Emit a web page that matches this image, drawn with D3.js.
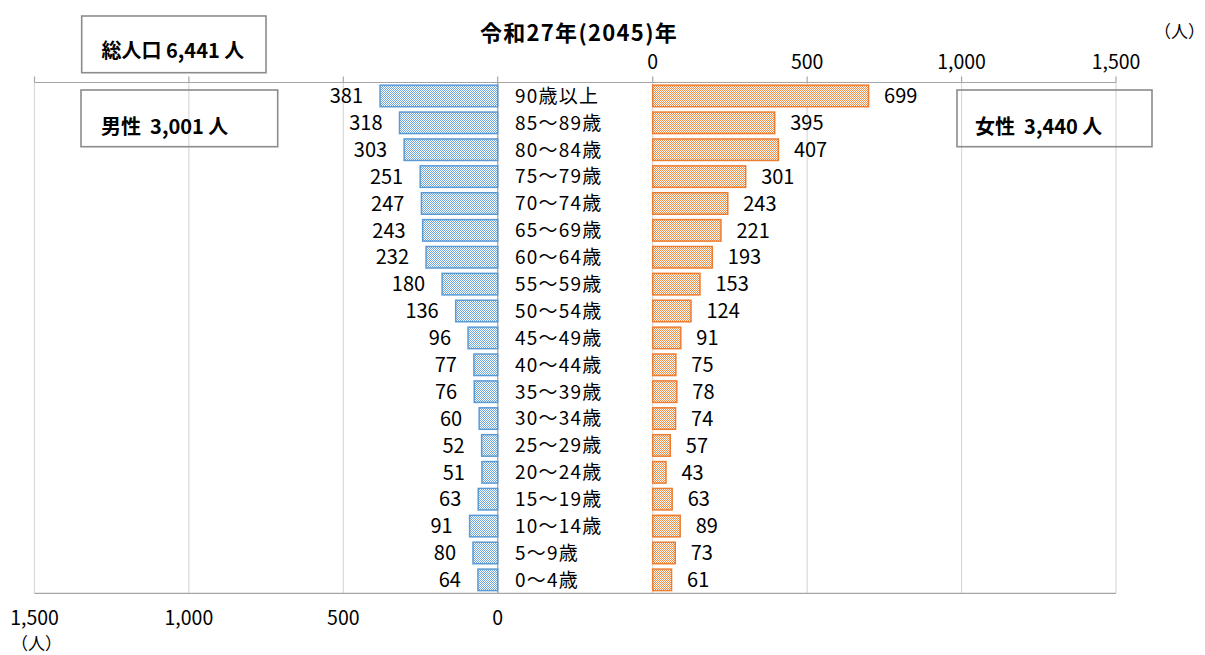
<!DOCTYPE html>
<html lang="ja">
<head>
<meta charset="utf-8">
<script src="https://cdn.jsdelivr.net/npm/d3@7"></script>
<style>
  html, body { margin: 0; padding: 0; background: #fff; }
  svg { display: block; font-family: "Noto Sans CJK JP", "Noto Sans", sans-serif; }
</style>
</head>
<body>
<svg id="chart" width="1205" height="655"></svg>
<script>
// 年齢階級（上から高齢順）
const ageGroups = [
  "90歳以上", "85～89歳", "80～84歳", "75～79歳", "70～74歳", "65～69歳",
  "60～64歳", "55～59歳", "50～54歳", "45～49歳", "40～44歳", "35～39歳",
  "30～34歳", "25～29歳", "20～24歳", "15～19歳", "10～14歳", "5～9歳", "0～4歳"
];
// 男性人口（人）
const male = [381, 318, 303, 251, 247, 243, 232, 180, 136, 96, 77, 76, 60, 52, 51, 63, 91, 80, 64];
// 女性人口（人）
const female = [699, 395, 407, 301, 243, 221, 193, 153, 124, 91, 75, 78, 74, 57, 43, 63, 89, 73, 61];
// 目盛り
const tickValues = [0, 500, 1000, 1500];

const titleText = "令和27年(2045)年";
const unitLabel = "（人）";

const maleTotal = d3.sum(male);
const femaleTotal = d3.sum(female);
const fmt = d3.format(",");

const svg = d3.select("#chart");

const plotTop = 82.5, plotBottom = 593.3;
const xMale = d3.scaleLinear().domain([0, 1500]).range([497.7, 34.5]);
const xFemale = d3.scaleLinear().domain([0, 1500]).range([652.7, 1116]);
const y = d3.scaleBand().domain(ageGroups).range([plotTop, plotBottom])
  .paddingInner(0.2).paddingOuter(0.1);

const blue = "#5b9bd5", orange = "#ed7d31";
const gridColor = "#d9d9d9", axisColor = "#a6a6a6";

// 細かい市松模様の塗り
const defs = svg.append("defs");
function checker(id, color, light) {
  const p = defs.append("pattern").attr("id", id)
    .attr("width", 2).attr("height", 2).attr("patternUnits", "userSpaceOnUse");
  p.append("rect").attr("width", 2).attr("height", 2).attr("fill", light);
  p.append("rect").attr("x", 0).attr("y", 0).attr("width", 1).attr("height", 1).attr("fill", color);
  p.append("rect").attr("x", 1).attr("y", 1).attr("width", 1).attr("height", 1).attr("fill", color);
}
checker("chkBlue", "#6fa6db", "#ffffff");
checker("chkOrange", "#ef8a45", "#ffffff");

// 目盛り線
const grid = svg.append("g");
tickValues.forEach(v => {
  [xMale(v), xFemale(v)].forEach(x => {
    grid.append("line").attr("x1", x).attr("x2", x).attr("y1", plotTop).attr("y2", plotBottom)
      .attr("stroke", gridColor).attr("stroke-width", 1.2);
    grid.append("line").attr("x1", x).attr("x2", x).attr("y1", plotTop - 6).attr("y2", plotTop)
      .attr("stroke", axisColor).attr("stroke-width", 1.2);
  });
});
// 軸線
grid.append("line").attr("x1", xMale(1500)).attr("x2", xFemale(1500)).attr("y1", plotTop).attr("y2", plotTop)
  .attr("stroke", axisColor).attr("stroke-width", 1.2);
grid.append("line").attr("x1", xMale(1500)).attr("x2", xFemale(1500)).attr("y1", plotBottom).attr("y2", plotBottom)
  .attr("stroke", axisColor).attr("stroke-width", 1.2);
grid.append("line").attr("x1", xMale(0)).attr("x2", xMale(0)).attr("y1", plotTop).attr("y2", plotBottom)
  .attr("stroke", axisColor).attr("stroke-width", 1.2);

// 男性の棒
svg.append("g").selectAll("rect").data(male).join("rect")
  .attr("x", d => xMale(d))
  .attr("y", (d, i) => y(ageGroups[i]))
  .attr("width", d => xMale(0) - xMale(d))
  .attr("height", y.bandwidth())
  .attr("fill", "url(#chkBlue)")
  .attr("stroke", blue).attr("stroke-width", 1.5);

// 女性の棒
svg.append("g").selectAll("rect").data(female).join("rect")
  .attr("x", xFemale(0))
  .attr("y", (d, i) => y(ageGroups[i]))
  .attr("width", d => xFemale(d) - xFemale(0))
  .attr("height", y.bandwidth())
  .attr("fill", "url(#chkOrange)")
  .attr("stroke", orange).attr("stroke-width", 1.5);

const valueSize = 20;
// 男性の数値ラベル
svg.append("g").selectAll("text").data(male).join("text")
  .attr("x", d => xMale(d) - 17)
  .attr("y", (d, i) => y(ageGroups[i]) + y.bandwidth() / 2)
  .attr("dy", "0.36em")
  .attr("text-anchor", "end")
  .attr("font-size", valueSize).attr("fill", "#000")
  .text(d => fmt(d));

// 女性の数値ラベル
svg.append("g").selectAll("text").data(female).join("text")
  .attr("x", d => xFemale(d) + 15.5)
  .attr("y", (d, i) => y(ageGroups[i]) + y.bandwidth() / 2)
  .attr("dy", "0.36em")
  .attr("text-anchor", "start")
  .attr("font-size", valueSize).attr("fill", "#000")
  .text(d => fmt(d));

// 年齢階級ラベル
svg.append("g").selectAll("text").data(ageGroups).join("text")
  .attr("x", 515)
  .attr("y", d => y(d) + y.bandwidth() / 2)
  .attr("dy", "0.36em")
  .attr("font-size", 19).attr("letter-spacing", 1.2)
  .text(d => d);

// 目盛りラベル（女性：上、男性：下）
svg.append("g").selectAll("text").data(tickValues).join("text")
  .attr("x", d => xFemale(d)).attr("y", 62).attr("dy", "0.36em")
  .attr("text-anchor", "middle").attr("font-size", 19.5)
  .text(d => fmt(d));
svg.append("g").selectAll("text").data(tickValues).join("text")
  .attr("x", d => xMale(d)).attr("y", 618).attr("dy", "0.36em")
  .attr("text-anchor", "middle").attr("font-size", 19.5)
  .text(d => fmt(d));

// 単位
svg.append("text").attr("x", 1154).attr("y", 32).attr("dy", "0.36em")
  .attr("font-size", 17).text(unitLabel);
svg.append("text").attr("x", 11).attr("y", 644).attr("dy", "0.36em")
  .attr("font-size", 17).text(unitLabel);

// 表題
svg.append("text").attr("x", 579).attr("y", 33).attr("dy", "0.36em")
  .attr("text-anchor", "middle").attr("font-size", 22).attr("font-weight", 700)
  .attr("letter-spacing", 1.3)
  .text(titleText);

// 人口の枠
function box(x, yTop, w, h, label, tx, ty) {
  svg.append("rect").attr("x", x).attr("y", yTop).attr("width", w).attr("height", h)
    .attr("fill", "none").attr("stroke", "#8c8c8c").attr("stroke-width", 1.6);
  svg.append("text").attr("x", tx).attr("y", ty).attr("dy", "0.36em")
    .attr("font-size", 20).attr("font-weight", 700)
    .attr("xml:space", "preserve")
    .style("white-space", "pre")
    .text(label);
}
box(81.7, 16, 184.3, 56.7, `総人口 ${fmt(maleTotal + femaleTotal)} 人`, 101.5, 51);
box(81, 90, 196.7, 56.7, `男性  ${fmt(maleTotal)} 人`, 101, 127);
box(957, 90, 195, 56.7, `女性  ${fmt(femaleTotal)} 人`, 975, 127);
</script>
</body>
</html>
